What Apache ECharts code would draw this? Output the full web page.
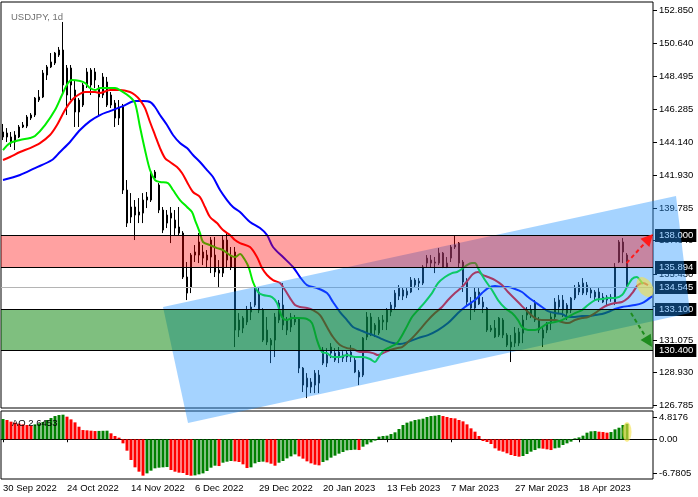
<!DOCTYPE html>
<html><head><meta charset="utf-8">
<script src="https://cdn.jsdelivr.net/npm/echarts/dist/echarts.min.js"></script>
<style>html,body{margin:0;padding:0;background:#fff}#c{width:698px;height:497px}</style>
</head><body><div id="c"></div>
<script>
// ---------- DATA ----------
const dateLabels = ['30 Sep 2022','24 Oct 2022','14 Nov 2022','6 Dec 2022','29 Dec 2022','20 Jan 2023','13 Feb 2023','7 Mar 2023','27 Mar 2023','18 Apr 2023'];
const priceTicks = [126.785,128.930,131.075,133.285,135.430,137.640,139.785,141.930,144.140,146.285,148.495,150.640,152.850];
const aoTicks = [4.8176, 0, -6.7805];
const aoTickText = ['4.8176','0.00','-6.7805'];

const opens = [144.47,144.73,144.47,144.14,144.47,145.13,145.19,145.72,145.92,146.91,
147.11,148.56,149.09,149.35,149.88,150.21,147.24,149.02,147.57,146.12,
146.58,147.90,147.90,148.76,147.70,148.43,148.10,147.24,146.71,145.72,
146.45,140.97,139.19,139.85,139.32,139.45,140.31,140.31,142.16,141.30,
139.65,138.79,139.12,138.99,138.53,138.13,135.23,134.57,136.68,136.68,
136.48,136.68,136.55,136.68,135.49,135.49,137.67,135.89,136.88,132.39,
131.86,132.26,132.92,133.38,134.24,133.05,130.94,130.74,131.07,132.39,
133.38,131.73,132.59,132.26,132.52,129.22,127.97,127.97,128.10,128.76,
129.55,129.55,130.21,130.21,130.28,130.08,129.95,129.95,129.75,128.96,
128.76,131.27,132.59,131.73,131.53,132.26,132.26,132.92,133.25,133.97,
134.37,134.04,134.24,135.03,134.83,134.83,136.48,136.15,136.15,136.15,
136.81,136.15,136.48,137.21,137.47,136.22,134.90,133.18,134.24,133.45,
133.58,133.18,131.73,131.86,131.40,132.39,131.40,130.94,130.87,130.87,
131.53,132.72,133.05,133.51,132.39,131.73,131.73,132.19,132.59,133.25,
133.71,132.85,133.05,133.84,134.24,134.17,134.24,134.37,133.91,134.24,
133.58,133.71,133.91,133.58,136.22,137.54,136.68];
const highs = [145.33,145.06,144.80,144.86,145.26,145.46,145.92,146.05,147.11,147.57,
148.89,149.22,150.01,150.08,150.41,152.06,149.22,149.22,148.23,147.04,
148.03,149.02,149.02,149.02,147.90,148.69,148.43,147.44,146.91,146.91,
146.65,141.63,140.77,140.31,140.44,140.77,140.84,142.29,142.29,141.43,
139.85,139.65,139.85,139.65,139.85,138.26,136.22,136.81,137.34,138.13,
137.34,137.01,137.87,137.87,136.35,138.00,138.13,137.21,137.21,132.85,
132.65,133.32,133.58,134.63,134.57,133.18,132.59,131.20,132.85,133.71,
134.83,132.59,132.85,132.72,132.59,129.29,128.89,128.56,129.09,129.09,
130.61,130.54,130.87,130.54,130.61,130.34,130.41,130.74,129.95,129.09,
131.27,132.92,132.85,132.19,132.59,132.72,133.18,133.58,134.37,134.70,
134.57,134.50,135.23,135.16,135.16,136.02,136.68,136.68,136.55,137.14,
136.88,136.55,137.34,138.00,137.54,136.35,135.16,133.91,134.57,134.50,
133.91,133.25,132.06,132.39,132.59,132.52,131.53,131.40,131.93,131.86,
132.72,133.25,133.38,133.71,132.59,131.93,132.26,132.85,133.84,134.04,
134.04,133.51,133.91,134.70,134.90,135.16,134.90,134.57,134.37,134.50,
134.17,134.04,134.10,136.15,137.67,137.80,136.81];
const lows = [144.27,144.14,143.81,143.61,144.40,145.06,145.06,145.59,145.79,146.78,
147.04,148.23,149.02,149.22,149.75,147.24,145.92,146.91,145.13,145.13,
146.45,147.70,147.24,147.70,145.92,147.04,146.45,146.38,145.13,145.26,
140.71,138.53,138.79,137.67,138.79,138.79,139.78,140.18,141.63,139.45,
138.13,138.46,137.47,138.00,138.00,135.10,133.71,134.17,136.22,136.15,
136.02,135.89,135.49,135.23,134.57,135.23,135.89,135.69,130.61,131.27,
131.53,132.06,132.39,133.25,132.85,130.94,130.74,129.55,129.95,132.19,
131.73,131.40,131.60,132.06,128.89,127.64,127.24,127.57,127.57,127.57,
129.42,129.29,129.88,129.62,129.55,129.62,129.62,129.62,128.89,128.10,
128.63,131.07,131.33,131.27,131.40,131.73,131.73,132.65,133.05,133.71,
133.71,133.84,134.17,134.57,134.37,134.70,135.89,135.89,135.49,136.02,
135.82,135.82,136.22,137.08,135.89,134.24,133.25,132.39,132.92,133.38,
132.85,131.60,131.60,131.20,131.27,131.20,130.61,129.62,130.61,130.67,
130.87,132.39,132.52,132.26,131.53,130.61,131.53,131.73,132.39,132.85,
132.59,132.39,132.85,133.71,134.04,134.04,134.04,133.84,133.71,133.58,
133.51,133.38,133.60,133.38,136.15,136.15,134.50];
const closes = [144.80,144.47,144.07,144.60,145.13,145.26,145.79,145.92,147.04,147.11,
148.69,149.09,149.42,150.01,150.21,147.90,149.02,147.90,146.12,146.91,
147.90,148.76,148.89,148.23,147.11,147.24,146.58,146.58,145.72,146.38,
140.97,138.79,139.85,139.32,139.52,140.31,140.51,142.16,141.76,139.65,
138.33,139.32,139.45,138.46,138.13,135.23,134.17,136.68,136.88,137.54,
136.88,136.35,137.67,135.56,135.69,137.67,136.35,136.55,131.73,131.73,
132.52,133.05,133.25,134.50,133.05,131.07,131.73,131.07,132.59,133.51,
132.06,132.39,131.93,132.52,129.22,128.10,128.56,128.30,128.89,128.23,
130.41,130.08,130.61,129.75,129.95,129.88,130.21,130.28,128.96,128.63,
131.20,132.59,131.40,132.06,132.39,132.39,133.05,133.38,134.17,134.50,
133.97,134.30,135.03,134.70,134.96,135.89,136.15,136.35,136.22,136.81,
135.89,135.89,137.21,137.34,136.15,134.90,133.58,133.58,133.18,134.24,
133.25,131.73,131.86,131.27,132.52,131.40,130.74,130.61,131.53,131.60,
132.39,133.05,132.79,132.39,131.73,131.20,132.19,132.59,133.58,133.71,
133.05,133.38,133.84,134.50,134.70,134.83,134.70,134.17,134.24,133.84,
133.91,133.91,133.80,135.89,137.54,136.88,134.545];

// Alligator lines: [bar position, price]
const lips = [[0,143.61],[1.75,144.07],[4.25,144.27],[6.75,144.40],[8,144.53],[10.5,145.26],[13,146.25],[14.75,147.24],[16.25,148.03],[17.25,148.23],[19.25,148.16],[20.5,148.03],[21.75,147.70],[23,147.57],[24.25,147.70],[26,147.70],[28,147.70],[29.25,147.57],[31.75,147.11],[33,146.71],[34.25,145.13],[35.5,143.61],[36.75,142.29],[38,141.63],[39.25,141.50],[41.25,141.43],[42.5,140.97],[44.25,140.31],[46,139.85],[47.25,139.52],[48,138.99],[49.25,138.13],[50,137.54],[51.75,137.34],[53.5,137.14],[55,137.01],[56.75,136.68],[58,136.55],[59.25,136.75],[60.5,136.35],[61.5,135.82],[62.5,134.90],[63.75,134.24],[65,134.04],[67.25,133.91],[68.5,133.51],[69.75,132.59],[71,132.39],[72.25,132.52],[73.75,132.52],[76,132.46],[77.25,132.19],[78.5,131.07],[79.75,130.28],[81,130.21],[82.5,129.95],[84.25,129.95],[86,130.08],[88,129.95],[90,129.95],[91.75,129.82],[93,129.62],[93.75,129.88],[95,130.34],[96.75,130.61],[98.5,130.87],[100.5,131.73],[102.25,132.59],[103.75,133.05],[105.5,133.58],[107.25,134.17],[108.75,134.83],[110.5,135.23],[112.25,135.49],[113.5,135.56],[114.75,135.76],[116,136.02],[117.25,136.15],[118,136.15],[118.75,135.82],[120.5,135.03],[122.25,134.37],[123.75,133.71],[125.5,133.18],[127.25,132.85],[128.75,132.39],[129.75,131.93],[131.25,131.73],[133,131.73],[134.75,131.93],[136.25,132.19],[138,132.26],[139.75,132.39],[141.25,132.59],[143,132.85],[144.75,133.05],[146.25,133.38],[148,133.71],[149.75,133.78],[151.25,133.84],[153,133.84],[154.75,134.04],[156,134.57],[157.25,135.10],[158.5,135.23],[159.25,135.03],[160,134.77]];
const teeth = [[0,142.95],[1.75,143.15],[4.25,143.48],[6.75,143.74],[9.25,144.07],[11.75,144.60],[13.5,145.26],[15.5,146.25],[17.25,146.91],[18.75,147.24],[20.5,147.44],[23,147.44],[24.25,147.37],[26.75,147.57],[29.25,147.57],[31.75,147.44],[33,147.24],[34.25,146.91],[35.5,146.38],[36.75,145.46],[38,144.60],[39.25,143.74],[40.5,143.08],[41.75,142.82],[43.5,142.49],[44.75,142.09],[46,141.50],[47.5,140.84],[49.25,140.51],[50.5,139.85],[51.75,139.19],[53.5,138.79],[55,138.33],[56.75,138.00],[58,137.67],[59.25,137.47],[61.75,137.21],[63.5,136.55],[64.75,135.82],[66,135.36],[67.5,135.03],[69.25,134.83],[70.5,134.37],[71.75,133.84],[73,133.38],[74.25,133.25],[76,133.18],[77.5,133.05],[79.25,132.72],[81,131.93],[82.5,131.27],[84.25,130.74],[86,130.54],[87.5,130.48],[89.25,130.28],[91,130.28],[92.5,130.21],[93.75,130.08],[95,130.21],[96.75,130.41],[98.5,130.54],[99.75,130.61],[101.25,130.94],[103,131.40],[104.75,131.93],[106.25,132.39],[108,132.85],[109.75,133.25],[111.25,133.71],[113,134.17],[114.75,134.57],[116.25,135.03],[117.5,135.43],[118.75,135.56],[120,135.36],[121.25,135.23],[123,135.03],[124.75,134.70],[126.25,134.24],[128,133.78],[129.75,133.31],[131.25,132.92],[133,132.52],[134.75,132.39],[136.25,132.39],[138,132.39],[139.75,132.26],[141.25,132.19],[143,132.39],[144.75,132.52],[146.25,132.59],[148,132.85],[149.75,133.18],[151.25,133.38],[153,133.51],[154.75,133.58],[156.25,133.84],[157.5,134.24],[158.75,134.70],[160,134.83],[161.25,134.70]];
const jaw = [[0,141.63],[4.25,141.96],[8,142.42],[12.25,142.95],[14.25,143.48],[16.75,144.14],[19.25,144.93],[21.75,145.52],[24.25,145.92],[26.75,146.18],[30,146.51],[33,146.84],[35,146.84],[36.75,146.78],[38,146.45],[39.25,145.92],[41,145.26],[42.5,144.60],[44.25,144.07],[46,143.74],[47.5,143.28],[49.25,142.82],[51,142.29],[52.5,141.83],[54.25,140.97],[56,140.31],[57.5,139.85],[59.25,139.52],[61.75,138.86],[64.25,138.46],[66,138.00],[67.5,137.21],[70,136.55],[72.5,135.89],[74.25,135.23],[76,134.70],[78.5,134.50],[81,134.17],[82.5,133.58],[84.25,132.92],[86,132.39],[87.5,131.93],[89.25,131.73],[91,131.53],[92.5,131.40],[94.25,131.20],[96,131.00],[97.5,130.87],[99.25,130.81],[101.25,130.94],[103.75,131.20],[106.25,131.40],[108.75,131.73],[111.25,132.19],[113.75,132.85],[115.5,133.25],[118,133.71],[119.75,134.17],[121.25,134.50],[123,134.63],[124.75,134.57],[126.25,134.57],[128,134.44],[129.75,134.24],[131.25,133.91],[133,133.58],[134.75,133.25],[136.25,132.98],[138,132.85],[139.75,132.79],[141.25,132.59],[143,132.59],[144.75,132.65],[146.25,132.65],[148,132.72],[149.75,132.79],[151.25,132.92],[153,133.12],[154.75,133.25],[156.25,133.31],[158,133.38],[159.75,133.51],[161,133.71],[162.25,133.97]];

const aoValues = [3.45,3.28,3.00,2.83,2.66,2.54,2.43,2.31,2.54,2.71,
2.94,3.28,3.62,3.96,4.13,4.19,3.85,3.39,2.88,2.14,
1.57,1.52,1.46,1.40,1.42,1.44,1.46,1.01,0.55,0.27,
-0.70,-1.95,-3.54,-4.79,-5.53,-6.21,-5.82,-5.36,-4.96,-4.85,
-4.79,-4.74,-5.25,-5.53,-5.70,-5.76,-6.10,-6.22,-6.16,-5.99,
-5.82,-5.42,-4.85,-4.51,-4.57,-4.00,-3.83,-3.71,-3.77,-3.88,
-4.28,-4.91,-4.79,-4.11,-3.88,-3.82,-3.94,-4.17,-4.51,-4.00,
-3.71,-3.26,-2.92,-2.58,-2.92,-3.31,-3.77,-4.11,-4.34,-4.45,
-3.88,-3.60,-3.14,-2.80,-2.46,-2.18,-1.89,-1.84,-1.78,-1.84,
-1.27,-0.87,-0.53,-0.24,0.44,0.55,0.61,0.89,1.18,1.75,
2.43,2.83,3.05,3.28,3.39,3.51,3.79,3.96,4.02,4.13,
3.96,3.79,3.62,3.56,3.28,3.05,2.54,1.86,1.29,0.55,
-0.30,-0.47,-0.81,-1.55,-1.95,-2.12,-2.40,-2.69,-2.86,-2.97,
-2.86,-2.52,-2.12,-1.84,-1.55,-1.61,-1.72,-1.84,-1.55,-1.44,
-0.98,-0.70,-0.41,0.15,0.32,0.61,1.12,1.35,1.40,1.29,
1.23,1.12,1.23,1.69,1.97,2.43,2.6453];

// horizontal levels and zones
const levels = [138.000, 135.894, 134.545, 133.100, 130.400];
const redZone = [135.894, 138.000];
const greenZone = [130.400, 133.100];
// channel corners [bar position, price]
const channel = [[40,133.25],[46.25,125.59],[171.75,132.85],[168.25,140.57]];
// arrows [from, to]
const arrows = [[[155.9,136.15],[162.5,138.07]], [[157,132.85],[162.25,130.61]]];
// highlight ellipses
const mainMark = [160.5, 134.57];
const aoMark = [156, 1.25];

// ---------- CHART ----------
const FONT = "'Liberation Sans', Arial, sans-serif";
const SLOTS = 163;
const cats = Array.from({length: SLOTS}, (_, i) => String(i));
const XMIN = -0.5, XMAX = SLOTS - 0.5;
const candles = opens.map((o, i) => [o, closes[i], lows[i], highs[i]]);
const aoBars = aoValues.map((v, i) => ({
  value: v,
  itemStyle: { color: (i === 0 || v > aoValues[i - 1]) ? '#008000' : '#ff0000' }
}));

const chart = echarts.init(document.getElementById('c'), null, {renderer: 'canvas'});

// right-hand price scale: tick mark + label for each value
function scaleSeries(xAxisIndex, yAxisIndex, values, texts, shifts) {
  return {type: 'custom', xAxisIndex, yAxisIndex, z: 1, silent: true,
    data: values.map(v => [XMAX, v]),
    renderItem: (params, api) => {
      const k = params.dataIndex;
      const p = api.coord([XMAX, api.value(1)]);
      const y = Math.round(p[1] + (shifts ? shifts[k] : 0)) + 0.5;
      return {type: 'group', children: [
        {type: 'line', shape: {x1: p[0], y1: y, x2: p[0] + 4, y2: y}, style: {stroke: '#000', lineWidth: 1}},
        {type: 'text', x: p[0] + 6, y: y, style: {text: texts[k], fill: '#000', font: '9.5px ' + FONT, verticalAlign: 'middle', align: 'left'}}
      ]};
    }};
}

const option = {
  animation: false,
  backgroundColor: '#fff',
  title: [
    {text: 'USDJPY, 1d', left: 6, top: 7, z: 20, textStyle: {fontSize: 9.5, fontWeight: 'normal', color: '#707070', fontFamily: FONT}},
    {text: 'AO ' + aoValues[aoValues.length - 1].toFixed(4), left: 7, top: 413, z: 20, textStyle: {fontSize: 9.5, fontWeight: 'normal', color: '#000', fontFamily: FONT}}
  ],
  grid: [
    {left: 1, top: 2, width: 652, height: 406, show: true, borderColor: '#000', borderWidth: 1, backgroundColor: '#fff'},
    {left: 1, top: 411, width: 652, height: 68, show: true, borderColor: '#000', borderWidth: 1, backgroundColor: '#fff'}
  ],
  xAxis: [
    {type: 'category', gridIndex: 0, data: cats, boundaryGap: true, show: false},
    {type: 'value', gridIndex: 0, min: XMIN, max: XMAX, show: false},
    {type: 'category', gridIndex: 1, data: cats, boundaryGap: true,
      axisLine: {show: true, lineStyle: {color: '#000', width: 1}},
      axisTick: {show: true, length: 3, alignWithLabel: true, interval: (i) => i % 16 === 0 && i / 16 < dateLabels.length, lineStyle: {color: '#000'}},
      axisLabel: {show: true, interval: (i) => i % 16 === 0 && i / 16 < dateLabels.length, formatter: (v, i) => dateLabels[i / 16] || '', align: 'left', margin: 4, color: '#000', fontSize: 9.5, fontFamily: FONT},
      splitLine: {show: false}},
    {type: 'value', gridIndex: 1, min: XMIN, max: XMAX, show: false}
  ],
  yAxis: [
    {type: 'value', gridIndex: 0, position: 'right', min: 126.587, max: 153.378, show: false},
    {type: 'value', gridIndex: 1, position: 'right', min: -6.7805, max: 4.8176, show: false}
  ],
  series: [
    scaleSeries(1, 0, priceTicks, priceTicks.map(v => v.toFixed(3))),
    scaleSeries(3, 1, aoTicks, aoTickText, [6, 0, -6]),
    {type: 'candlestick', xAxisIndex: 0, yAxisIndex: 0, z: 2, data: candles, barWidth: 2,
      itemStyle: {color: '#fff', color0: '#000', borderColor: '#000', borderColor0: '#000', borderWidth: 1}},
    {type: 'line', xAxisIndex: 1, yAxisIndex: 0, z: 3, data: jaw, showSymbol: false, smooth: 0.3, lineStyle: {color: '#0000ff', width: 2}},
    {type: 'line', xAxisIndex: 1, yAxisIndex: 0, z: 3, data: teeth, showSymbol: false, smooth: 0.3, lineStyle: {color: '#ff0000', width: 2}},
    {type: 'line', xAxisIndex: 1, yAxisIndex: 0, z: 3, data: lips, showSymbol: false, smooth: 0.3, lineStyle: {color: '#00ee00', width: 2}},
    // grey current-price line and price boxes
    {type: 'custom', xAxisIndex: 1, yAxisIndex: 0, z: 4, silent: true,
      data: levels.map(v => [0, v]),
      renderItem: (params, api) => {
        const v = api.value(1);
        const a = api.coord([XMIN, v]), b = api.coord([XMAX, v]);
        const y = Math.round(a[1]) + 0.5;
        const children = [];
        if (params.dataIndex === 2) {
          children.push({type: 'line', shape: {x1: a[0], y1: y, x2: b[0], y2: y}, style: {stroke: '#b4b4b4', lineWidth: 1}});
        }
        children.push({type: 'text', x: b[0] + 2, y: y, style: {text: v.toFixed(3), fill: '#fff', backgroundColor: '#000', padding: [2, 3, 1, 4], font: '9.5px ' + FONT, verticalAlign: 'middle', align: 'left'}});
        return {type: 'group', children};
      }},
    // blue channel
    {type: 'custom', xAxisIndex: 1, yAxisIndex: 0, z: 5, silent: true, data: [[0, 130]],
      renderItem: (params, api) => ({type: 'polygon', shape: {points: channel.map(p => api.coord(p))}, style: {fill: 'rgba(30,144,255,0.40)'}})},
    // zones
    {type: 'custom', xAxisIndex: 1, yAxisIndex: 0, z: 6, silent: true, data: [[0, 130]],
      renderItem: (params, api) => {
        const zone = (z, fill) => {
          const a = api.coord([XMIN, z[1]]), b = api.coord([XMAX, z[0]]);
          const y1 = Math.round(a[1]) + 0.5, y2 = Math.round(b[1]) + 0.5;
          return [
            {type: 'rect', shape: {x: a[0], y: y1, width: b[0] - a[0], height: y2 - y1}, style: {fill}},
            {type: 'line', shape: {x1: a[0], y1: y1, x2: b[0], y2: y1}, style: {stroke: '#000', lineWidth: 1}},
            {type: 'line', shape: {x1: a[0], y1: y2, x2: b[0], y2: y2}, style: {stroke: '#000', lineWidth: 1}}
          ];
        };
        return {type: 'group', children: [...zone(redZone, 'rgba(255,0,0,0.37)'), ...zone(greenZone, 'rgba(0,128,0,0.5)')]};
      }},
    // arrows
    {type: 'custom', xAxisIndex: 1, yAxisIndex: 0, z: 8, silent: true,
      data: arrows.map(a => [a[0][0], a[0][1]]),
      renderItem: (params, api) => {
        const k = params.dataIndex;
        const col = k === 0 ? '#ff1a1a' : '#1e8c1e';
        const s = api.coord(arrows[k][0]), e = api.coord(arrows[k][1]);
        const ang = Math.atan2(e[1] - s[1], e[0] - s[0]);
        const L = 12, W = 6;
        const bx = e[0] - L * Math.cos(ang), by = e[1] - L * Math.sin(ang);
        const px = -Math.sin(ang) * W, py = Math.cos(ang) * W;
        return {type: 'group', children: [
          {type: 'line', shape: {x1: s[0], y1: s[1], x2: bx, y2: by}, style: {stroke: col, lineWidth: 2, lineDash: [4, 3]}},
          {type: 'polygon', shape: {points: [[e[0], e[1]], [bx + px, by + py], [bx - px, by - py]]}, style: {fill: col}}
        ]};
      }},
    // yellow ellipse main
    {type: 'custom', xAxisIndex: 1, yAxisIndex: 0, z: 8, silent: true, data: [mainMark],
      renderItem: (params, api) => {
        const c = api.coord(mainMark);
        return {type: 'circle', x: c[0], y: c[1], rotation: 0.6, scaleX: 0.65, scaleY: 1, shape: {cx: 0, cy: 0, r: 11}, style: {fill: 'rgba(245,225,70,0.6)'}};
      }},
    // AO histogram
    {type: 'bar', xAxisIndex: 2, yAxisIndex: 1, z: 2, data: aoBars, barWidth: 3},
    // yellow ellipse AO
    {type: 'custom', xAxisIndex: 3, yAxisIndex: 1, z: 8, silent: true, data: [aoMark],
      renderItem: (params, api) => {
        const c = api.coord(aoMark);
        return {type: 'circle', x: c[0], y: c[1], scaleX: 0.45, scaleY: 1, shape: {cx: 0, cy: 0, r: 10}, style: {fill: 'rgba(245,225,70,0.6)'}};
      }}
  ]
};
chart.setOption(option);
</script></body></html>
